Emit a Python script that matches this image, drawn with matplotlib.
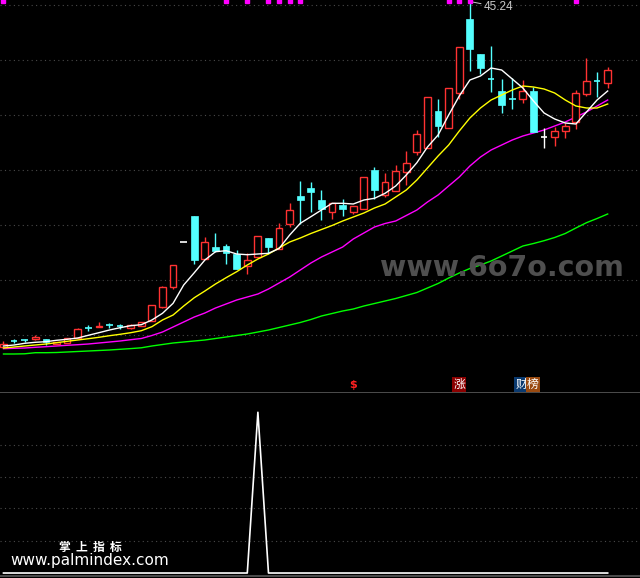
import matplotlib.pyplot as plt
from matplotlib.transforms import blended_transform_factory

# daily candles (price)
opens = [10.72, 11.32, 11.36, 11.49, 11.46, 11.02, 11.12, 11.56, 12.62, 12.66,
         12.92, 12.79, 12.56, 12.82, 13.26, 14.66, 16.66, 21.16, 23.79, 19.46,
         20.69, 20.76, 19.99, 18.82, 19.66, 21.59, 20.46, 23.02, 25.79, 26.56,
         25.39, 24.22, 24.89, 24.22, 24.46, 28.39, 25.92, 26.32, 28.22, 30.16,
         30.56, 34.29, 32.62, 36.06, 43.49, 39.99, 37.52, 36.29, 35.52, 35.46,
         36.32, 31.66, 31.66, 32.26, 33.22, 36.02, 37.26, 37.06]
closes = [10.99, 11.32, 11.36, 11.69, 11.19, 11.22, 11.56, 12.49, 12.62, 12.82,
          12.92, 12.79, 12.92, 13.19, 14.86, 16.66, 18.86, 21.16, 19.39, 21.16,
          20.29, 20.12, 18.49, 19.36, 21.76, 20.72, 22.56, 24.36, 25.42, 26.19,
          24.49, 25.06, 24.52, 24.76, 27.66, 26.42, 27.16, 28.26, 29.06, 31.96,
          35.66, 32.79, 36.56, 40.66, 40.49, 38.62, 37.52, 34.92, 35.52, 36.26,
          32.22, 31.66, 32.26, 32.79, 36.06, 37.29, 37.26, 38.39]
highs = [11.29, 11.54, 11.49, 11.89, 11.46, 11.22, 11.56, 12.59, 12.89, 13.19,
         13.06, 12.99, 12.99, 13.19, 14.89, 16.79, 18.86, 21.16, 23.79, 21.69,
         22.09, 21.02, 20.39, 20.06, 21.76, 21.59, 23.06, 25.06, 27.29, 27.16,
         26.39, 25.06, 25.49, 24.76, 27.66, 28.69, 28.12, 28.89, 30.29, 32.39,
         35.66, 35.49, 36.56, 40.66, 45.24, 39.99, 40.79, 37.49, 37.56, 37.39,
         36.66, 32.62, 32.69, 33.12, 36.39, 39.59, 38.19, 38.69]
lows = [10.72, 11.09, 11.19, 11.39, 10.89, 11.02, 11.12, 11.56, 12.32, 12.66,
        12.56, 12.49, 12.49, 12.82, 13.26, 14.62, 16.52, 21.16, 18.96, 19.46,
        20.19, 19.02, 18.49, 18.02, 19.66, 19.96, 20.46, 22.72, 22.99, 24.19,
        23.39, 23.49, 23.79, 23.96, 24.46, 25.49, 25.72, 26.32, 26.89, 29.89,
        30.56, 31.72, 32.62, 35.46, 38.29, 37.99, 36.22, 34.12, 34.52, 35.12,
        32.22, 30.62, 30.82, 31.62, 32.47, 35.82, 35.66, 36.62]

# moving averages
ma5 = [10.79, 10.89, 11.06, 11.16, 11.22, 11.36, 11.46, 11.59, 11.86, 12.12,
       12.39, 12.62, 12.82, 12.92, 13.39, 14.06, 15.06, 16.89, 18.12, 19.39,
       20.22, 20.32, 19.99, 19.92, 19.99, 20.06, 20.54, 21.89, 23.06, 23.72,
       24.39, 25.06, 25.06, 24.99, 25.39, 25.56, 26.06, 26.79, 27.89, 29.12,
       30.69, 31.89, 33.89, 35.79, 37.39, 37.79, 38.59, 38.39, 37.49, 36.59,
       35.29, 34.09, 33.49, 33.09, 32.99, 34.19, 35.39, 36.29]
ma10 = [10.59, 10.69, 10.79, 10.89, 10.99, 11.12, 11.26, 11.39, 11.52, 11.66,
        11.82, 11.96, 12.12, 12.32, 12.72, 13.39, 13.89, 14.79, 15.62, 16.29,
        16.99, 17.62, 18.22, 18.89, 19.49, 19.99, 20.59, 21.19, 21.59, 22.04,
        22.44, 22.84, 23.29, 23.69, 24.09, 24.59, 24.99, 25.69, 26.39, 27.39,
        28.59, 29.79, 30.89, 32.29, 33.59, 34.59, 35.39, 35.89, 36.39, 36.79,
        36.69, 36.49, 36.09, 35.39, 34.79, 34.59, 34.59, 34.99]
ma20 = [10.52, 10.56, 10.59, 10.66, 10.72, 10.79, 10.86, 10.92, 10.99, 11.09,
        11.19, 11.29, 11.42, 11.54, 11.84, 12.19, 12.69, 13.19, 13.69, 14.09,
        14.59, 14.99, 15.39, 15.69, 15.99, 16.49, 17.09, 17.69, 18.39, 19.09,
        19.69, 20.19, 20.69, 21.49, 22.09, 22.69, 23.04, 23.29, 23.84, 24.39,
        25.19, 25.89, 26.79, 27.69, 28.79, 29.69, 30.39, 30.89, 31.39, 31.79,
        32.09, 32.39, 32.79, 33.19, 33.69, 34.19, 34.79, 35.39]
ma60 = [9.99, 9.99, 10.01, 10.12, 10.12, 10.14, 10.19, 10.24, 10.29, 10.34,
        10.39, 10.46, 10.53, 10.61, 10.79, 10.94, 11.09, 11.19, 11.29, 11.39,
        11.54, 11.69, 11.84, 11.99, 12.19, 12.39, 12.64, 12.89, 13.14, 13.44,
        13.79, 14.04, 14.29, 14.49, 14.79, 15.04, 15.29, 15.54, 15.84, 16.14,
        16.59, 17.04, 17.59, 18.09, 18.54, 18.89, 19.29, 19.79, 20.29, 20.79,
        21.04, 21.32, 21.64, 22.04, 22.59, 23.12, 23.54, 23.99]

# lower indicator
signal = [0] * 24 + [100] + [0] * 33

white_doji = [17, 51]
top_marks = [0, 21, 23, 25, 26, 27, 28, 42, 43, 44, 54]
dollar_day = 33
zhang_day = 43
cai_day, bang_day = 48.85, 49.95

RED = '#ff3232'
CYAN = '#54ffff'
GRID = '#4a4a4a'

H = 578
fig = plt.figure(figsize=(6.4, 5.78), dpi=100, facecolor='black')
ax = fig.add_axes([0, 1 - 392 / H, 1, 392 / H])
ax2 = fig.add_axes([0, 0, 1, 186 / H])
for a in (ax, ax2):
    a.set_facecolor('black')
    a.set_xlim(-0.33, 60.05)
    a.axis('off')
ax.set_ylim(6.19, 45.39)
ax2.set_ylim(-3.1, 112.6)

# dotted grid
for k in range(7):
    ax.plot([0, 1], [1 - (5.3 + 55 * k) / 392] * 2, color=GRID, lw=0.8,
            ls=(0, (1, 3)), transform=ax.transAxes, zorder=0)
for d in [52.7, 84.7, 116.3, 149.3]:
    ax2.plot([0, 1], [1 - d / 186] * 2, color=GRID, lw=0.8,
             ls=(0, (1, 3)), transform=ax2.transAxes, zorder=0)
ax2.plot([0, 1], [0.998, 0.998], color='#5a5a5a', lw=1.2, transform=ax2.transAxes)
ax2.plot([0, 1], [0.009, 0.009], color='#5a5a5a', lw=1.2, transform=ax2.transAxes)

# candles
w = 0.64
for i in range(len(opens)):
    o, c, h, l = opens[i], closes[i], highs[i], lows[i]
    if c > o:
        ax.vlines(i, c, h, color=RED, lw=1, zorder=3)
        ax.vlines(i, l, o, color=RED, lw=1, zorder=3)
        ax.bar(i, c - o, bottom=o, width=w, facecolor='black', edgecolor=RED,
               linewidth=1, zorder=3)
    elif c < o:
        ax.vlines(i, l, h, color=CYAN, lw=1, zorder=3)
        ax.bar(i, o - c, bottom=c, width=w, facecolor=CYAN, edgecolor=CYAN,
               linewidth=0.5, zorder=3)
    else:
        col = 'white' if i in white_doji else CYAN
        ax.vlines(i, l, h, color=col, lw=1, zorder=3)
        ax.hlines(c, i - w / 2, i + w / 2, color=col, lw=1.2, zorder=3)

x = list(range(len(ma5)))
ax.plot(x, ma60, color='#00ff00', lw=1, zorder=2)
ax.plot(x, ma20, color='#ff00ff', lw=1, zorder=2)
ax.plot(x, ma10, color='#ffff00', lw=1, zorder=4)
ax.plot(x, ma5, color='white', lw=1, zorder=4)

# top signal marks
tr = blended_transform_factory(ax.transData, ax.transAxes)
ax.plot(top_marks, [0.997] * len(top_marks), 's', color='#ff00ff', ms=2.2,
        transform=tr, clip_on=False, zorder=5)

# peak label
pk = highs.index(max(highs))
ax.annotate(f'{max(highs):.2f}', xy=(pk, max(highs)), xytext=(10, -4),
            textcoords='offset points', ha='left', va='center', color='#c8c8c8',
            fontsize=8.5, family='Liberation Sans',
            arrowprops=dict(arrowstyle='-', color='#c8c8c8', lw=0.7,
                            shrinkA=0, shrinkB=0))

# markers at bottom of main panel
ax.text(dollar_day, 0.018, '$', transform=tr, ha='center', va='center',
        color='#ff2020', fontsize=8, fontweight='bold')
cjk = ['Noto Sans CJK SC', 'DejaVu Sans']
ax.text(zhang_day, 0.02, '涨', transform=tr, ha='center', va='center',
        color='white', fontsize=8.5, family=cjk,
        bbox=dict(boxstyle='square,pad=0.08', fc='#8b0000', ec='none'))
ax.text(cai_day, 0.02, '财', transform=tr, ha='center', va='center',
        color='white', fontsize=8.5, family=cjk,
        bbox=dict(boxstyle='square,pad=0.08', fc='#0a3a70', ec='none'))
ax.text(bang_day, 0.02, '榜', transform=tr, ha='center', va='center',
        color='white', fontsize=8.5, family=cjk,
        bbox=dict(boxstyle='square,pad=0.08', fc='#9a4a10', ec='none'))

# lower panel line
ax2.plot(range(len(signal)), signal, color='white', lw=1.2)

# watermarks
fig.text(501.7 / 640, 1 - 268 / H, 'www.6o7o.com', ha='center', va='center',
         fontsize=20.5, color='#4f4f4f', fontweight='bold')
fig.text(90 / 640, 1 - 547 / H, '掌  上  指  标', ha='center', va='center',
         fontsize=8.5, color='white', fontweight='bold', family=cjk)
fig.text(89.5 / 640, 1 - 560 / H, 'www.palmindex.com', ha='center', va='center',
         fontsize=11, color='white')

fig.savefig('out.png', dpi=100, facecolor='black')
